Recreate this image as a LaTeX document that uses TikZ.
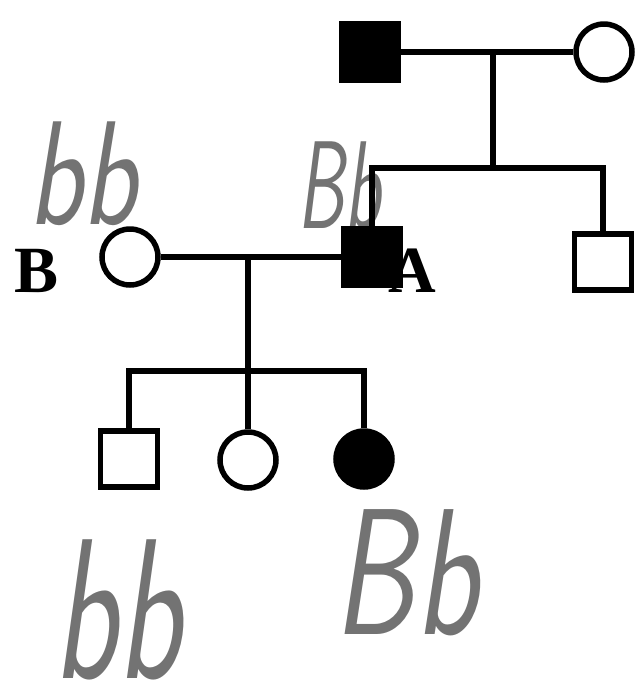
\documentclass[tikz,border=0pt]{standalone}
\usepackage{fontspec}
\newfontfamily\labelfont{Liberation Serif}
\begin{document}
\begin{tikzpicture}[x=1pt,y=-1pt,
  line width=5.5pt,
  male/.style={draw,rectangle,minimum width=57pt,minimum height=56pt,inner sep=0pt,fill=white},
  female/.style={draw,circle,minimum size=56pt,inner sep=0pt,fill=white},
  affected/.style={fill=black},
  hand/.style={inner sep=0pt,anchor=base west,text=black!55},
  lbl/.style={inner sep=0pt,anchor=base west,font=\labelfont\bfseries\fontsize{66}{66}\selectfont}]
\useasboundingbox (0,0) rectangle (641,697);
% handwritten genotypes
\node[hand,font=\sffamily\slshape\fontsize{148}{148}\selectfont,xscale=.76] (hbB) at (26,224) {bb};
\node[hand,font=\sffamily\slshape\fontsize{125}{125}\selectfont,xscale=.60] (hbA) at (296,228) {Bb};
\node[hand,font=\sffamily\slshape\fontsize{180}{180}\selectfont,xscale=.72] (hbD) at (332,634) {Bb};
\node[hand,font=\sffamily\slshape\fontsize{200}{200}\selectfont,xscale=.66] (hbS) at (52,678) {bb};
% letter labels
\node[lbl] (labB) at (12,292) {B};
\node[lbl] (labA) at (386,292) {A};
% generation I
\node[male,affected] (gf) at (370,52) {};
\node[female] (gm) at (604,52) {};
% generation II
\node[male,affected] (A) at (372,257) {};
\node[male] (br) at (603,262) {};
\node[female] (B) at (130,257) {};
% generation III
\node[male] (c1) at (129,459) {};
\node[female] (c2) at (248,460) {};
\node[female,affected] (c3) at (364,459) {};
% connectors
\coordinate (m1) at (493,52);
\coordinate (s1) at (493,168);
\coordinate (s1L) at (372,168);
\coordinate (s1R) at (603,168);
\draw (gf) -- (gm);
\draw (m1) -- (s1);
\draw[line cap=rect] (s1L) -- (s1R);
\draw (s1L) -- (A);
\draw (s1R) -- (br);
\coordinate (m2) at (248,257);
\coordinate (s2) at (248,371);
\coordinate (s2L) at (129,371);
\coordinate (s2R) at (364,371);
\draw (B) -- (A);
\draw (m2) -- (s2);
\draw[line cap=rect] (s2L) -- (s2R);
\draw (s2L) -- (c1);
\draw (s2) -- (c2);
\draw (s2R) -- (c3);
\end{tikzpicture}
\end{document}
